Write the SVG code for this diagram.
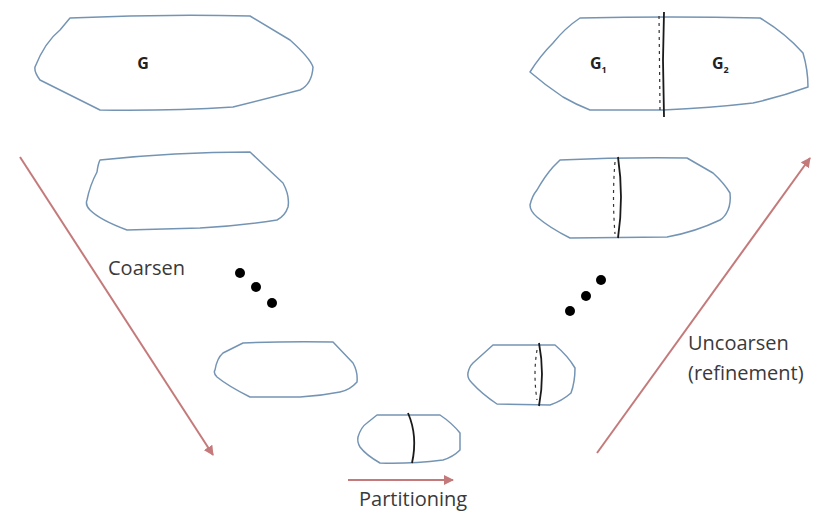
<svg xmlns="http://www.w3.org/2000/svg" width="821" height="513" viewBox="0 0 821 513">
<defs>
<marker id="ah" viewBox="0 0 10 10" refX="9" refY="5" markerWidth="5" markerHeight="5" orient="auto" markerUnits="strokeWidth">
<path d="M0,0 L10,5 L0,10 z" fill="#c47a7a"/>
</marker>
<linearGradient id="hl" x1="0" x2="1" y1="0" y2="0">
<stop offset="0" stop-color="#6f98c0" stop-opacity="0"/>
<stop offset="0.3" stop-color="#6f98c0"/>
<stop offset="0.8" stop-color="#6f98c0"/>
<stop offset="1" stop-color="#6f98c0" stop-opacity="0"/>
</linearGradient>
</defs>
<style>
.blob{fill:#fff;stroke:#7494b4;stroke-width:1.5;stroke-linejoin:round}
.cut{fill:none;stroke:#1a1a1a;stroke-width:1.8}
.dash{fill:none;stroke:#333;stroke-width:1.2;stroke-dasharray:3 4}
.arr{fill:none;stroke:#c47a7a;stroke-width:2;marker-end:url(#ah)}
.lbl{font-family:"Open Sans","DejaVu Sans",sans-serif;font-size:20px;fill:#3a3a3a}
.gl{font-family:"Open Sans","DejaVu Sans",sans-serif;font-size:16px;font-weight:bold;fill:#222}
.sub{font-size:9px}
.dot{fill:#000}
</style>
<rect width="821" height="513" fill="#fff"/>

<g id="connectors">
<line class="arr" x1="20" y1="157" x2="213" y2="455"/>
<line class="arr" x1="348" y1="480" x2="453" y2="480"/>
<line class="arr" x1="597" y1="453" x2="810" y2="158"/>
</g>

<g id="g-top">
<path class="blob" d="M70,18 Q160,14 250,16 L290,40 Q310,58 313,67 Q312,84 300,90 L233,107 Q170,111 100,110 L40,80 Q34,72 35,67 Q45,42 60,30 Z"/>
<line x1="115" y1="15" x2="235" y2="15" stroke="url(#hl)" stroke-width="3"/>
<text class="gl" x="143" y="69" text-anchor="middle">G</text>
</g>

<g id="g-left2">
<path class="blob" d="M100,160 Q175,152 250,152 L283,183 Q290,196 288,207 Q285,216 277,220 Q240,226 200,228 L127,230 Q100,220 90,210 Q85,205 87,200 Q90,185 97,172 Q98,164 100,160 Z"/>
</g>

<g id="g-left3">
<path class="blob" d="M243,343 Q290,341 333,342 L353,363 Q358,372 357,382 Q350,390 340,392 Q320,396 300,397 L250,397 Q228,386 217,377 Q213,373 215,370 Q217,358 223,353 Z"/>
</g>

<g id="g-bottom">
<path class="blob" d="M377,415 L440,415 Q452,423 460,433 L460,450 Q453,457 443,460 Q410,464 380,463 Q366,455 360,447 Q357,442 358,437 Q361,427 367,423 Z"/>
<path class="cut" d="M408,413 Q418,436 412,463"/>
</g>

<g id="g-right3">
<path class="blob" d="M493,345 L555,345 Q568,356 575,368 Q575,382 571,393 Q562,401 550,405 L497,404 Q482,394 472,383 Q467,378 468,373 Q469,367 473,363 Z"/>
<path class="cut" d="M539,343 Q545,374 539,406"/>
<path class="dash" d="M537,350 Q533,374 537,400"/>
</g>

<g id="g-right2">
<path class="blob" d="M560,160 Q625,157 687,158 L713,173 Q724,183 730,193 Q731,203 728,210 Q725,217 720,220 Q695,232 667,237 L570,238 Q550,228 537,217 Q530,211 530,205 Q532,196 537,190 Q545,176 553,167 Z"/>
<path class="cut" d="M618,157 Q624,197 618,238"/>
<path class="dash" d="M615,162 Q612,197 615,234"/>
</g>

<g id="g-top-right">
<path class="blob" d="M580,18 Q670,16 760,18 Q785,33 803,53 Q808,70 808,87 Q780,97 753,103 Q710,108 663,110 L590,110 Q575,104 563,97 Q545,85 530,72 Q540,56 553,43 Q565,28 580,18 Z"/>
<line x1="605" y1="15" x2="730" y2="15" stroke="url(#hl)" stroke-width="3"/>
<path class="cut" d="M664,12 L663,60 L664,117"/>
<path class="dash" d="M659,16 L660,110"/>
<text class="gl" x="590" y="69">G<tspan class="sub" dy="4">1</tspan></text>
<text class="gl" x="712" y="69">G<tspan class="sub" dy="4">2</tspan></text>
</g>

<g id="dots-left">
<circle class="dot" cx="240" cy="273" r="5"/>
<circle class="dot" cx="256" cy="287" r="5"/>
<circle class="dot" cx="272" cy="303" r="5"/>
</g>
<g id="dots-right">
<circle class="dot" cx="570" cy="311" r="5"/>
<circle class="dot" cx="586" cy="296" r="5"/>
<circle class="dot" cx="601" cy="280" r="5"/>
</g>

<g id="labels">
<text class="lbl" x="108" y="275">Coarsen</text>
<text class="lbl" x="359" y="506">Partitioning</text>
<text class="lbl" x="688" y="350">Uncoarsen</text>
<text class="lbl" x="688" y="380">(refinement)</text>
</g>
</svg>
